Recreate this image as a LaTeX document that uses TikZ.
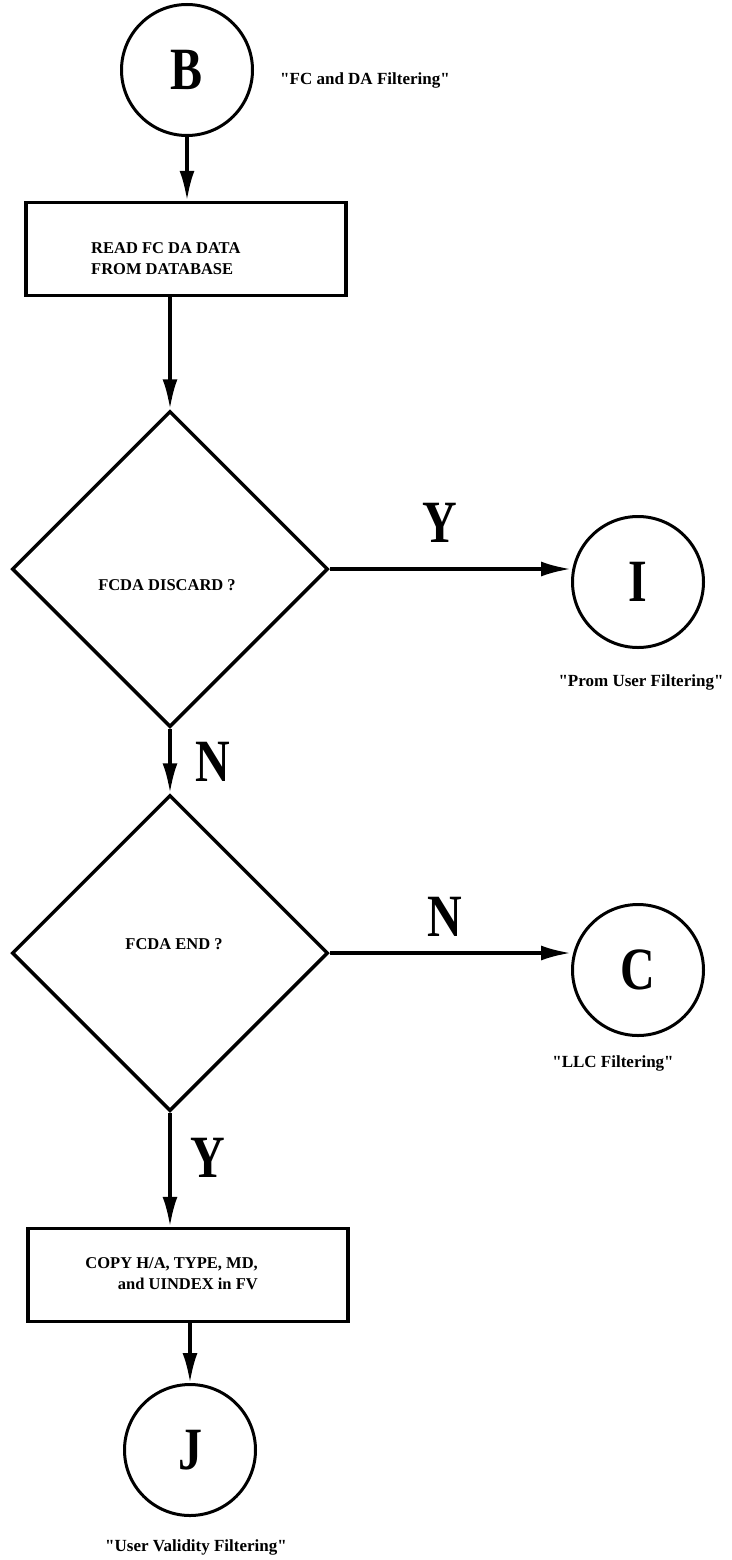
\documentclass[tikz,border=0pt]{standalone}
\usepackage{fontspec}
\setmainfont{Liberation Serif}
\newfontfamily\notefont{Liberation Serif}
\newfontfamily\bigletters[FakeStretch=0.8]{Liberation Serif}
\usetikzlibrary{arrows.meta,positioning,shapes.geometric}

\begin{document}
\begin{tikzpicture}[x=1pt,y=-1pt,
  conn/.style={circle,draw,line width=3pt,minimum size=131pt,inner sep=0pt,
               font=\bigletters\bfseries\fontsize{60}{60}\selectfont},
  box/.style={draw,line width=3.5pt,minimum width=320pt,minimum height=93pt,inner sep=0pt},
  decision/.style={diamond,draw,line width=3.5pt,minimum width=316pt,minimum height=316pt,inner sep=0pt},
  txt/.style={font=\bfseries\fontsize{16.5}{21}\selectfont,inner sep=0pt},
  note/.style={font=\notefont\bfseries\fontsize{17}{20}\selectfont,inner sep=0pt},
  yn/.style={font=\bigletters\bfseries\fontsize{60}{60}\selectfont,inner sep=0pt},
  arr/.style={-{Latex[length=30pt,width=15pt]},line width=3.5pt}
]
  \useasboundingbox (0,0) rectangle (731,1560);

  \node[conn] (B) at (187,70) {B};
  \node[note,anchor=west] (Bnote) at (280,80) {"FC and DA Filtering"};

  \node[box] (r1) at (186,249) {};
  \node[txt,anchor=north west,align=left] (r1txt) at (91,242) {READ FC DA DATA\\FROM DATABASE};

  \node[decision] (d1) at (170,569) {};
  \node[txt] (d1txt) at (167,585) {FCDA DISCARD ?};
  \node[conn] (I) at (638,582) {I};
  \node[note] (Inote) at (641,682) {"Prom User Filtering"};
  \node[yn] (d1yes) at (440,523) {Y};
  \node[yn] (d1no) at (213,762) {N};

  \node[decision] (d2) at (170,953) {};
  \node[txt] (d2txt) at (174,944) {FCDA END ?};
  \node[conn] (C) at (638,970) {C};
  \node[note] (Cnote) at (613,1063) {"LLC Filtering"};
  \node[yn] (d2no) at (445,917) {N};
  \node[yn] (d2yes) at (208,1158) {Y};

  \node[box] (r2) at (188,1275) {};
  \node[txt,anchor=north east,align=right] (r2txt) at (258,1257) {COPY H/A, TYPE, MD,\\and UINDEX in FV};

  \node[conn] (J) at (190,1450) {J};
  \node[note] (Jnote) at (196,1547) {"User Validity Filtering"};

  \draw[arr] (B.south) -- (B.south |- r1.north);
  \draw[arr] (d1.north |- r1.south) -- (d1.north);
  \draw[arr] (d1.east) -- (d1.east -| I.west);
  \draw[arr] (d1.south) -- (d2.north);
  \draw[arr] (d2.east) -- (d2.east -| C.west);
  \draw[arr] (d2.south) -- (d2.south |- r2.north);
  \draw[arr] (J.north |- r2.south) -- (J.north);
\end{tikzpicture}
\end{document}
